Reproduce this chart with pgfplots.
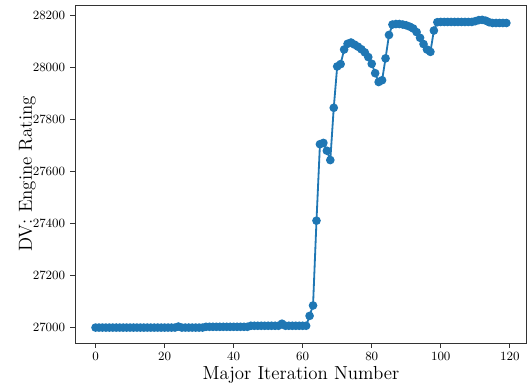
\documentclass[border=0pt]{standalone}
\usepackage{pgfplots}
\pgfplotsset{compat=1.18}
\definecolor{mplblue}{HTML}{1F77B4}
\begin{document}
\begin{tikzpicture}
\begin{axis}[
  scale only axis,
  width=323pt, height=241.5pt,
  xmin=-5.95, xmax=124.95,
  ymin=26941, ymax=28240,
  xtick={0,20,40,60,80,100,120},
  ytick={27000,27200,27400,27600,27800,28000,28200},
  scaled y ticks=false,
  yticklabel style={/pgf/number format/.cd,fixed,1000 sep={}},
  tick align=outside,
  xtick pos=bottom, ytick pos=left,
  major tick length=3.5pt,
  tick style={black!80, line width=0.6pt},
  axis line style={black!80, line width=0.6pt},
  ticklabel style={font=\small},
  xlabel={Major Iteration Number},
  ylabel={DV: Engine Rating},
  label style={font=\fontsize{13.5}{15}\selectfont},
  xlabel style={yshift=3pt},
  ylabel style={yshift=-9pt},
]
\addplot[color=mplblue, line width=1.3pt, mark=*, mark size=2.4pt, mark options={fill=mplblue, draw=mplblue}] table {
x y
0 27000
1 27000
2 27000
3 27000
4 27000
5 27000
6 27000
7 27000
8 27000
9 27000
10 27000
11 27000
12 27000
13 27000
14 27000
15 27000
16 27000
17 27000
18 27000
19 27000
20 27000
21 27000
22 27000
23 27000
24 27004
25 27000
26 27000
27 27000
28 27000
29 27000
30 27000
31 27000
32 27003
33 27003
34 27003
35 27003
36 27003
37 27003
38 27003
39 27003
40 27003
41 27003
42 27003
43 27003
44 27003
45 27007
46 27007
47 27007
48 27007
49 27007
50 27007
51 27007
52 27007
53 27007
54 27015
55 27007
56 27007
57 27007
58 27007
59 27007
60 27007
61 27007
62 27045
63 27085
64 27411
65 27705
66 27710
67 27680
68 27644
69 27845
70 28004
71 28013
72 28069
73 28091
74 28096
75 28088
76 28080
77 28070
78 28058
79 28040
80 28014
81 27978
82 27944
83 27951
84 28035
85 28125
86 28165
87 28167
88 28167
89 28165
90 28162
91 28157
92 28150
93 28136
94 28114
95 28090
96 28069
97 28060
98 28142
99 28174
100 28175
101 28175
102 28175
103 28175
104 28175
105 28175
106 28175
107 28175
108 28175
109 28175
110 28178
111 28182
112 28183
113 28180
114 28174
115 28171
116 28171
117 28171
118 28171
119 28171
};
\end{axis}
\path (current axis.south west) ++(-53.6pt,-34pt) coordinate (bbl);
\path (current axis.north east) ++(1.5pt,3.6pt) coordinate (bbr);
\path (bbl) (bbr);
\end{tikzpicture}
\end{document}
